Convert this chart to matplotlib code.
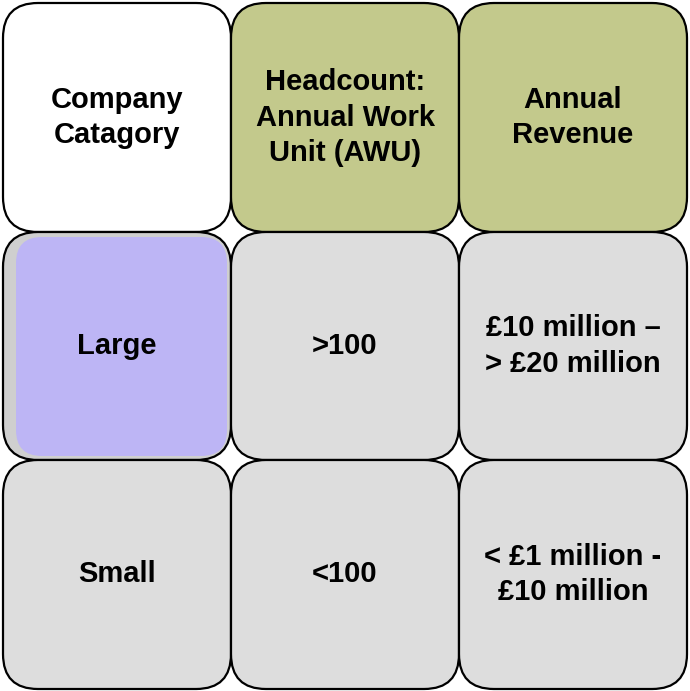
import matplotlib.pyplot as plt
from matplotlib.patches import FancyBboxPatch

# tablo icerigi
basliklar = ["Company\nCatagory", "Headcount:\nAnnual Work\nUnit (AWU)", "Annual\nRevenue"]
satir_large = ["Large", ">100", "£10 million –\n> £20 million"]
satir_small = ["Small", "<100", "< £1 million -\n£10 million"]
hucre_renkleri = [
    ["#ffffff", "#c3c98c", "#c3c98c"],
    ["#cfcfcf", "#dddddd", "#dddddd"],
    ["#dddddd", "#dddddd", "#dddddd"],
]

satirlar = [basliklar, satir_large, satir_small]

fig = plt.figure(figsize=(6.9, 6.91), dpi=100)
ax = fig.add_axes([0, 0, 1, 1])
ax.set_xlim(0, 690)
ax.set_ylim(691, 0)
ax.axis("off")

x_sinir = [3, 231, 459, 687]
y_sinir = [3, 232, 460, 689]

for i, satir in enumerate(satirlar):
    for j, metin in enumerate(satir):
        x0, x1 = x_sinir[j], x_sinir[j + 1]
        y0, y1 = y_sinir[i], y_sinir[i + 1]
        kutu = FancyBboxPatch((x0, y0), x1 - x0, y1 - y0,
                              boxstyle="round,pad=0,rounding_size=35",
                              facecolor=hucre_renkleri[i][j], edgecolor="black",
                              linewidth=1.6, zorder=1)
        ax.add_patch(kutu)
        if i == 1 and j == 0:
            # "Large" hucresindeki mor dolgu
            ic = FancyBboxPatch((16, 237), 211, 219,
                                boxstyle="round,pad=0,rounding_size=26",
                                facecolor="#bdb5f5", edgecolor="none", zorder=2)
            ax.add_patch(ic)
        ax.text((x0 + x1) / 2, (y0 + y1) / 2, metin, ha="center", va="center",
                fontsize=21, fontweight="bold", family="Liberation Sans",
                linespacing=1.35, color="black", zorder=3)

fig.savefig("out.png", dpi=100)
